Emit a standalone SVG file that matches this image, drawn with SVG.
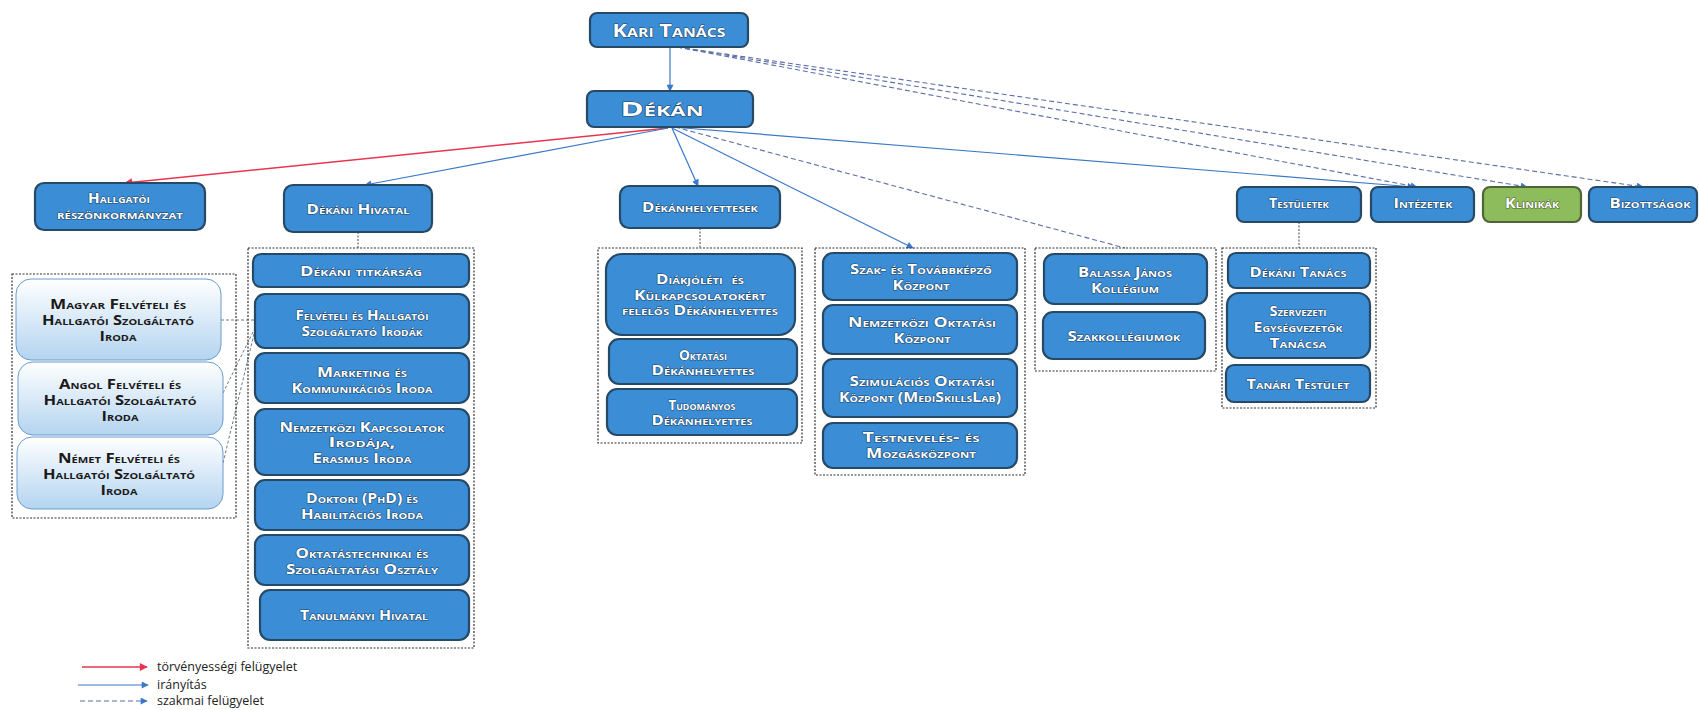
<svg xmlns="http://www.w3.org/2000/svg" width="1699" height="710" viewBox="0 0 1699 710">
<style>
.box{fill:#3b8dd6;stroke:#264a66;stroke-width:2.2}
.grn{fill:#8cbc5b;stroke:#4f6535;stroke-width:2.2}
.lt{fill:url(#lg);stroke:#6b9ccc;stroke-width:1}
.grp{fill:none;stroke:#333;stroke-width:1.2;stroke-dasharray:2 1.5}
.t{font-family:'Open Sans','Liberation Sans',sans-serif;font-weight:700;font-variant:small-caps;fill:#fff;text-anchor:middle;stroke:#1d4468;stroke-width:1;paint-order:stroke;stroke-linejoin:round;font-size:13.5px}
.td{fill:#1a1a1a;stroke:none}
.f17{font-size:18px}.f19{font-size:20px}
.blue{fill:none;stroke:#3a78c8;stroke-width:1.2}
.red{fill:none;stroke:#e8354f;stroke-width:1.5}
.dash{fill:none;stroke:#5b6fa8;stroke-width:1.1;stroke-dasharray:5 3}
.dot{fill:none;stroke:#444;stroke-width:1;stroke-dasharray:2 1.5}
.dotg{fill:none;stroke:#6a7a90;stroke-width:1;stroke-dasharray:3 2}
.leg{font-family:'Open Sans','Liberation Sans',sans-serif;font-size:12.5px;fill:#222}
</style>
<defs>
<linearGradient id="lg" x1="0" y1="0" x2="0" y2="1"><stop offset="0" stop-color="#ffffff"/><stop offset="1" stop-color="#b3d4f0"/></linearGradient>
<marker id="ab" viewBox="0 0 10 10" refX="9" refY="5" markerUnits="userSpaceOnUse" markerWidth="9" markerHeight="7" orient="auto"><path d="M0,0 L10,5 L0,10 z" fill="#3a78c8"/></marker>
<marker id="ar" viewBox="0 0 10 10" refX="9" refY="5" markerUnits="userSpaceOnUse" markerWidth="10" markerHeight="8" orient="auto"><path d="M0,0 L10,5 L0,10 z" fill="#e8354f"/></marker>
</defs>
<rect width="1699" height="710" fill="#fff"/>

<g id="connectors">
<path class="blue" d="M670,47 L670,91" marker-end="url(#ab)"/>
<path class="red" d="M668,128 L125,183" marker-end="url(#ar)"/>
<path class="blue" d="M668,128 L365,185" marker-end="url(#ab)"/>
<path class="blue" d="M672,128 L698,186" marker-end="url(#ab)"/>
<path class="blue" d="M672,128 L913,248" marker-end="url(#ab)"/>
<path class="blue" d="M672,127 L1414,187" marker-end="url(#ab)"/>
<path class="dash" d="M675,127 L1125,248"/>
<path class="dash" d="M677,47 L1417,187" marker-end="url(#ab)"/>
<path class="dash" d="M677,47 L1527,187" marker-end="url(#ab)"/>
<path class="dash" d="M677,47 L1643,187" marker-end="url(#ab)"/>
<path class="dot" d="M358,232 L358,248"/>
<path class="dot" d="M700,228 L700,248"/>
<path class="dot" d="M1299,222 L1299,248"/>
<path class="dotg" d="M221,320 L255,320"/>
<path class="dotg" d="M223,393 L254,330"/>
<path class="dotg" d="M223,463 L254,334"/>
</g>

<g id="kari-tanacs"><rect class="box" x="590" y="13" width="158" height="34" rx="7"/>
<text class="t f17" x="669" y="37" textLength="113" lengthAdjust="spacingAndGlyphs">Kari Tanács</text></g>
<g id="dekan"><rect class="box" x="587" y="91" width="166" height="36" rx="7"/>
<text class="t f19" x="662" y="116" textLength="83" lengthAdjust="spacingAndGlyphs">Dékán</text></g>
<g id="hallgatoi"><rect class="box" x="35" y="183" width="170" height="47" rx="9"/>
<text class="t" x="119" y="203" textLength="62" lengthAdjust="spacingAndGlyphs">Hallgatói</text>
<text class="t" x="120" y="219" textLength="126" lengthAdjust="spacingAndGlyphs">részönkormányzat</text></g>
<g id="dekani-hivatal"><rect class="box" x="284" y="185" width="148" height="47" rx="9"/>
<text class="t" x="358" y="214" textLength="103" lengthAdjust="spacingAndGlyphs">Dékáni Hivatal</text></g>
<g id="dekanhelyettesek"><rect class="box" x="620" y="186" width="160" height="42" rx="9"/>
<text class="t" x="700" y="212" textLength="116" lengthAdjust="spacingAndGlyphs">Dékánhelyettesek</text></g>
<g id="testuletek"><rect class="box" x="1237" y="187" width="124" height="35" rx="7"/>
<text class="t" x="1299" y="208" textLength="60" lengthAdjust="spacingAndGlyphs">Testületek</text></g>
<g id="intezetek"><rect class="box" x="1371" y="187" width="103" height="35" rx="7"/>
<text class="t" x="1423" y="208" textLength="59" lengthAdjust="spacingAndGlyphs">Intézetek</text></g>
<g id="klinikak"><rect class="grn" x="1483" y="187" width="98" height="35" rx="7"/>
<text class="t" x="1532" y="208" textLength="54" lengthAdjust="spacingAndGlyphs" style="stroke:#4f6535">Klinikák</text></g>
<g id="bizottsagok"><rect class="box" x="1589" y="187" width="108" height="35" rx="7"/>
<text class="t" x="1650" y="208" textLength="81" lengthAdjust="spacingAndGlyphs">Bizottságok</text></g>

<g id="felveteli-irodak-group"><rect class="grp" x="12" y="274" width="224" height="244"/></g>
<g id="magyar"><rect class="lt" x="16" y="279" width="205" height="81" rx="15"/>
<text class="t td" x="118" y="309" textLength="136" lengthAdjust="spacingAndGlyphs">Magyar Felvételi és</text>
<text class="t td" x="118" y="325" textLength="152" lengthAdjust="spacingAndGlyphs">Hallgatói Szolgáltató</text>
<text class="t td" x="118" y="341" textLength="37" lengthAdjust="spacingAndGlyphs">Iroda</text></g>
<g id="angol"><rect class="lt" x="18" y="362" width="205" height="73" rx="15"/>
<text class="t td" x="120" y="389" textLength="122" lengthAdjust="spacingAndGlyphs">Angol Felvételi és</text>
<text class="t td" x="120" y="405" textLength="153" lengthAdjust="spacingAndGlyphs">Hallgatói Szolgáltató</text>
<text class="t td" x="120" y="421" textLength="37" lengthAdjust="spacingAndGlyphs">Iroda</text></g>
<g id="nemet"><rect class="lt" x="17" y="437" width="206" height="72" rx="15"/>
<text class="t td" x="119" y="463" textLength="122" lengthAdjust="spacingAndGlyphs">Német Felvételi és</text>
<text class="t td" x="119" y="479" textLength="152" lengthAdjust="spacingAndGlyphs">Hallgatói Szolgáltató</text>
<text class="t td" x="119" y="495" textLength="37" lengthAdjust="spacingAndGlyphs">Iroda</text></g>

<g id="dekani-hivatal-group"><rect class="grp" x="248" y="248" width="226" height="400"/></g>
<g id="titkarsag"><rect class="box" x="253" y="254" width="216" height="33" rx="8"/>
<text class="t" x="361" y="276" textLength="122" lengthAdjust="spacingAndGlyphs">Dékáni titkárság</text></g>
<g id="felveteli"><rect class="box" x="255" y="294" width="214" height="54" rx="10"/>
<text class="t" x="362" y="320" textLength="133" lengthAdjust="spacingAndGlyphs">Felvételi és Hallgatói</text>
<text class="t" x="362" y="336" textLength="121" lengthAdjust="spacingAndGlyphs">Szolgáltató Irodák</text></g>
<g id="marketing"><rect class="box" x="255" y="353" width="214" height="50" rx="10"/>
<text class="t" x="362" y="377" textLength="90" lengthAdjust="spacingAndGlyphs">Marketing és</text>
<text class="t" x="362" y="393" textLength="141" lengthAdjust="spacingAndGlyphs">Kommunikációs Iroda</text></g>
<g id="nemzetkozi-kapcsolatok"><rect class="box" x="255" y="409" width="214" height="66" rx="10"/>
<text class="t" x="362" y="432" textLength="165" lengthAdjust="spacingAndGlyphs">Nemzetközi Kapcsolatok</text>
<text class="t" x="362" y="447" textLength="67" lengthAdjust="spacingAndGlyphs">Irodája,</text>
<text class="t" x="362" y="463" textLength="99" lengthAdjust="spacingAndGlyphs">Erasmus Iroda</text></g>
<g id="doktori"><rect class="box" x="255" y="480" width="214" height="50" rx="10"/>
<text class="t" x="362" y="503" textLength="112" lengthAdjust="spacingAndGlyphs">Doktori (PhD) és</text>
<text class="t" x="362" y="519" textLength="122" lengthAdjust="spacingAndGlyphs">Habilitációs Iroda</text></g>
<g id="oktatastechnikai"><rect class="box" x="255" y="535" width="214" height="50" rx="10"/>
<text class="t" x="362" y="558" textLength="133" lengthAdjust="spacingAndGlyphs">Oktatástechnikai és</text>
<text class="t" x="362" y="574" textLength="152" lengthAdjust="spacingAndGlyphs">Szolgáltatási Osztály</text></g>
<g id="tanulmanyi"><rect class="box" x="260" y="590" width="209" height="50" rx="10"/>
<text class="t" x="364" y="620" textLength="128" lengthAdjust="spacingAndGlyphs">Tanulmányi Hivatal</text></g>

<g id="dekanhelyettesek-group"><rect class="grp" x="598" y="248" width="204" height="195"/></g>
<g id="diakjoleti"><rect class="box" x="606" y="254" width="189" height="81" rx="16"/>
<text class="t" x="700" y="284" textLength="88" lengthAdjust="spacingAndGlyphs" xml:space="preserve">Diákjóléti  és</text>
<text class="t" x="700" y="300" textLength="132" lengthAdjust="spacingAndGlyphs">Külkapcsolatokért</text>
<text class="t" x="700" y="315" textLength="156" lengthAdjust="spacingAndGlyphs">felelős Dékánhelyettes</text></g>
<g id="oktatasi-dh"><rect class="box" x="609" y="339" width="188" height="45" rx="10"/>
<text class="t" x="703" y="360" textLength="48" lengthAdjust="spacingAndGlyphs">Oktatási</text>
<text class="t" x="703" y="375" textLength="103" lengthAdjust="spacingAndGlyphs">Dékánhelyettes</text></g>
<g id="tudomanyos-dh"><rect class="box" x="607" y="389" width="190" height="46" rx="10"/>
<text class="t" x="702" y="410" textLength="67" lengthAdjust="spacingAndGlyphs">Tudományos</text>
<text class="t" x="702" y="425" textLength="101" lengthAdjust="spacingAndGlyphs">Dékánhelyettes</text></g>

<g id="kozpontok-group"><rect class="grp" x="815" y="248" width="210" height="227"/></g>
<g id="szak-tovabbkepzo"><rect class="box" x="823" y="253" width="194" height="47" rx="10"/>
<text class="t" x="921" y="274" textLength="142" lengthAdjust="spacingAndGlyphs">Szak- és Továbbképző</text>
<text class="t" x="921" y="290" textLength="57" lengthAdjust="spacingAndGlyphs">Központ</text></g>
<g id="nemzetkozi-oktatasi"><rect class="box" x="823" y="305" width="194" height="49" rx="10"/>
<text class="t" x="922" y="327" textLength="148" lengthAdjust="spacingAndGlyphs">Nemzetközi Oktatási</text>
<text class="t" x="922" y="343" textLength="57" lengthAdjust="spacingAndGlyphs">Központ</text></g>
<g id="szimulacios"><rect class="box" x="823" y="359" width="194" height="58" rx="10"/>
<text class="t" x="922" y="386" textLength="145" lengthAdjust="spacingAndGlyphs">Szimulációs Oktatási</text>
<text class="t" x="920" y="402" textLength="162" lengthAdjust="spacingAndGlyphs">Központ (MediSkillsLab)</text></g>
<g id="testneveles"><rect class="box" x="823" y="423" width="194" height="45" rx="10"/>
<text class="t" x="921" y="442" textLength="117" lengthAdjust="spacingAndGlyphs">Testnevelés- és</text>
<text class="t" x="921" y="458" textLength="110" lengthAdjust="spacingAndGlyphs">Mozgásközpont</text></g>

<g id="kollegium-group"><rect class="grp" x="1035" y="248" width="181" height="123"/></g>
<g id="balassa"><rect class="box" x="1044" y="254" width="163" height="50" rx="10"/>
<text class="t" x="1125" y="277" textLength="94" lengthAdjust="spacingAndGlyphs">Balassa János</text>
<text class="t" x="1125" y="293" textLength="68" lengthAdjust="spacingAndGlyphs">Kollégium</text></g>
<g id="szakkollegiumok"><rect class="box" x="1043" y="312" width="162" height="47" rx="10"/>
<text class="t" x="1124" y="341" textLength="113" lengthAdjust="spacingAndGlyphs">Szakkollégiumok</text></g>

<g id="testuletek-group"><rect class="grp" x="1222" y="248" width="154" height="160"/></g>
<g id="dekani-tanacs"><rect class="box" x="1228" y="253" width="142" height="35" rx="8"/>
<text class="t" x="1298" y="277" textLength="97" lengthAdjust="spacingAndGlyphs">Dékáni Tanács</text></g>
<g id="szervezeti"><rect class="box" x="1227" y="293" width="143" height="65" rx="12"/>
<text class="t" x="1298" y="316" textLength="57" lengthAdjust="spacingAndGlyphs">Szervezeti</text>
<text class="t" x="1298" y="332" textLength="89" lengthAdjust="spacingAndGlyphs">Egységvezetők</text>
<text class="t" x="1298" y="348" textLength="57" lengthAdjust="spacingAndGlyphs">Tanácsa</text></g>
<g id="tanari-testulet"><rect class="box" x="1226" y="365" width="144" height="37" rx="8"/>
<text class="t" x="1298" y="389" textLength="103" lengthAdjust="spacingAndGlyphs">Tanári Testület</text></g>

<g id="legend">
<path class="red" d="M82,667 L147,667" marker-end="url(#ar)"/>
<path class="blue" d="M78,685 L148,685" marker-end="url(#ab)"/>
<path class="dash" d="M80,701 L147,701" marker-end="url(#ab)"/>
<text class="leg" x="157" y="671">törvényességi felügyelet</text>
<text class="leg" x="157" y="689">irányítás</text>
<text class="leg" x="157" y="705">szakmai felügyelet</text>
</g>
</svg>
